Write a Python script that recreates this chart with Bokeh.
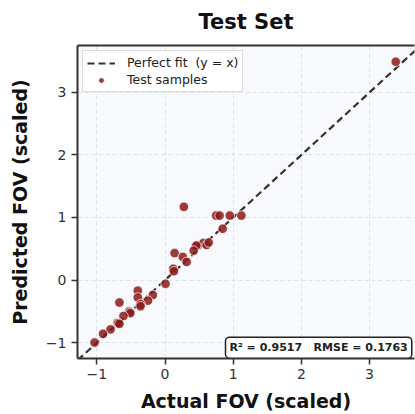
from bokeh.plotting import figure
from bokeh.models import Range1d, FixedTicker, LinearAxis, Label, Legend, LegendItem
from bokeh.embed import file_html
from bokeh.resources import INLINE

# ---- data ----
actual = [3.385, 0.276, 0.75, 0.80, 0.95, 1.12, 0.845, 0.56, 0.61, 0.64,
          0.45, 0.46, 0.42, 0.14, 0.26, 0.316, 0.12, 0.13, 0.007, -0.18,
          -0.25, -0.40, -0.40, -0.36, -0.36, -0.67, -0.53, -0.52, -0.51,
          -0.61, -0.70, -0.69, -0.67, -0.80, -0.91, -1.035]
predicted = [3.49, 1.17, 1.03, 1.03, 1.03, 1.03, 0.82, 0.59, 0.56, 0.60,
             0.54, 0.55, 0.47, 0.43, 0.37, 0.29, 0.18, 0.14, -0.06, -0.24,
             -0.33, -0.17, -0.28, -0.385, -0.42, -0.36, -0.50, -0.51, -0.53,
             -0.575, -0.685, -0.69, -0.70, -0.79, -0.86, -1.0]
fit_line = [-1.4, 3.9]
ticks = [-1, 0, 1, 2, 3]
tick_labels = {-1: "\u22121", 0: "0", 1: "1", 2: "2", 3: "3"}
title_text = "Test Set"
x_label = "Actual FOV (scaled)"
y_label = "Predicted FOV (scaled)"
legend_labels = ["Perfect fit\u00a0 (y = x)", "Test samples"]
stats_text = "R\u00b2 = 0.9517\u00a0\u00a0 RMSE = 0.1763"

FONT = "DejaVu Sans"
DARK = "#333333"

p = figure(width=415, height=414, output_backend="svg", toolbar_location=None,
           x_range=Range1d(-1.285, 3.66), y_range=Range1d(-1.255, 3.75),
           min_border_left=77, min_border_right=1, min_border_top=45,
           min_border_bottom=52, background_fill_color="#f8f9fd",
           border_fill_color="white", outline_line_color=None)

p.title.text = title_text
p.title.align = "center"
p.title.text_font = FONT
p.title.text_font_size = "21px"
p.title.text_font_style = "bold"
p.title.text_color = "#111111"
p.title.standoff = 5

for ax in (p.xaxis[0], p.yaxis[0]):
    ax.ticker = FixedTicker(ticks=ticks)
    ax.major_label_overrides = tick_labels
    ax.major_label_text_font = FONT
    ax.major_label_text_font_size = "14px"
    ax.major_label_text_color = DARK
    ax.axis_label_text_font = FONT
    ax.axis_label_text_font_size = "19px"
    ax.axis_label_text_font_style = "bold"
    ax.axis_label_text_color = "#111111"
    ax.axis_line_color = DARK
    ax.axis_line_width = 2
    ax.major_tick_line_color = DARK
    ax.major_tick_line_width = 1.5
    ax.major_tick_out = 6
    ax.major_tick_in = 0
    ax.minor_tick_line_color = None

p.xaxis.axis_label = x_label
p.yaxis.axis_label = y_label
p.xaxis.major_label_standoff = 4
p.yaxis.major_label_standoff = 5
p.xaxis.axis_label_standoff = 8
p.yaxis.axis_label_standoff = 12

# top frame line; its blank label only adds a gap below the title
top_axis = LinearAxis(ticker=FixedTicker(ticks=[]), axis_line_color=DARK,
                      axis_line_width=2, major_tick_line_color=None,
                      minor_tick_line_color=None, major_label_text_font_size="0px",
                      axis_label="\u00a0", axis_label_text_font_size="5px",
                      axis_label_standoff=0)
p.add_layout(top_axis, "above")

p.grid.ticker = FixedTicker(ticks=ticks)
p.grid.grid_line_color = "#d8dbe3"
p.grid.grid_line_dash = "4 3"
p.grid.grid_line_width = 0.8

r_line = p.line(fit_line, fit_line, line_color=DARK, line_width=2.2, line_dash="7 4")
r_pts = p.scatter(actual, predicted, size=9.5, fill_color="#8b1a1a", fill_alpha=0.85,
                  line_color="white", line_width=0.8, line_alpha=0.9)

legend = Legend(items=[LegendItem(label=legend_labels[0], renderers=[r_line]),
                       LegendItem(label=legend_labels[1], renderers=[r_pts])],
                location="top_left", margin=5, padding=4, spacing=2,
                label_height=14, glyph_height=14, glyph_width=28, label_standoff=12,
                label_text_font=FONT, label_text_font_size="12.5px",
                label_text_color="#222222", border_line_color="#bbbbbb",
                border_line_width=1, background_fill_color="white",
                background_fill_alpha=0.9)
p.add_layout(legend)

stats = Label(x=3.62, y=-1.25, text=stats_text, text_align="right",
              text_baseline="bottom", text_font=FONT, text_font_size="11px",
              text_font_style="bold", text_color="#222222",
              background_fill_color="white", background_fill_alpha=0.95,
              border_line_color="#222222", border_line_width=1.5,
              padding=4, border_radius=4)
p.add_layout(stats)

open("out.html", "w").write(file_html(p, INLINE))
